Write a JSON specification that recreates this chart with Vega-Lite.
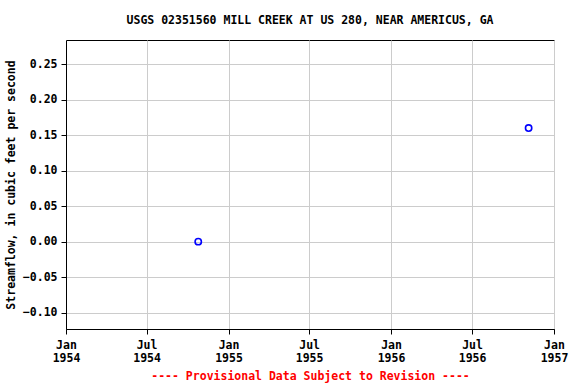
{
  "$schema": "https://vega.github.io/schema/vega-lite/v6.json",
  "width": 488,
  "height": 289,
  "autosize": {"type": "none"},
  "padding": {"left": 66, "top": 40, "right": 22, "bottom": 55},
  "background": "white",
  "title": {
    "text": "USGS 02351560 MILL CREEK AT US 280, NEAR AMERICUS, GA",
    "font": "DejaVu Sans Mono",
    "fontSize": 11.5,
    "fontWeight": "bold",
    "color": "black",
    "anchor": "middle",
    "offset": 14
  },
  "config": {
    "view": {"stroke": "black", "strokeWidth": 1},
    "axis": {
      "labelFont": "DejaVu Sans Mono",
      "labelFontSize": 11.5,
      "labelFontWeight": "bold",
      "labelColor": "black",
      "titleFont": "DejaVu Sans Mono",
      "titleFontSize": 11.5,
      "titleFontWeight": "bold",
      "gridColor": "#cccccc",
      "gridWidth": 1,
      "tickColor": "black",
      "tickSize": 5,
      "domain": true,
      "domainColor": "black",
      "domainWidth": 1
    }
  },
  "data": {
    "values": [
      {"date": "1954-10-25", "flow": 0.0},
      {"date": "1956-11-05", "flow": 0.16}
    ]
  },
  "mark": {"type": "point", "shape": "circle", "filled": false, "color": "#0000ff", "opacity": 1, "size": 40, "strokeWidth": 1.6},
  "encoding": {
    "x": {
      "field": "date",
      "type": "temporal",
      "scale": {"type": "utc", "domain": ["1954-01-01", "1957-01-01"]},
      "axis": {
        "title": "---- Provisional Data Subject to Revision ----",
        "titleColor": "#ff0000",
        "titlePadding": 7,
        "tickCount": {"interval": "month", "step": 6},
        "labelExpr": "[utcFormat(datum.value, '%b'), utcFormat(datum.value, '%Y')]",
        "labelPadding": 5,
        "labelLineHeight": 13,
        "labelFlush": false,
        "labelOverlap": false
      }
    },
    "y": {
      "field": "flow",
      "type": "quantitative",
      "scale": {"domain": [-0.123, 0.284], "nice": false, "zero": false},
      "axis": {
        "title": "Streamflow, in cubic feet per second",
        "values": [-0.1, -0.05, 0, 0.05, 0.1, 0.15, 0.2, 0.25],
        "format": ".2f",
        "labelPadding": 4,
        "titlePadding": 6
      }
    }
  }
}
